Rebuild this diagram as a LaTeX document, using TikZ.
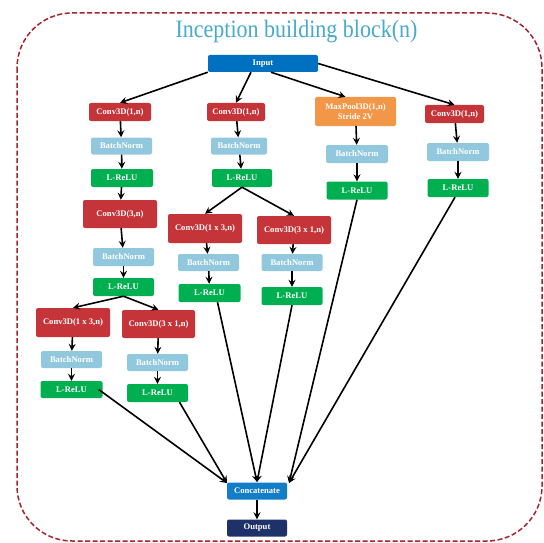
\documentclass[tikz,border=0pt]{standalone}
\usepackage{fontspec}
\usepackage{graphicx}
\setmainfont{Liberation Serif}
\usetikzlibrary{arrows.meta}
\definecolor{convred}{RGB}{196,52,56}
\definecolor{bnblue}{RGB}{146,200,222}
\definecolor{relugreen}{RGB}{0,176,80}
\definecolor{poolorange}{RGB}{242,150,72}
\definecolor{inblue}{RGB}{0,112,192}
\definecolor{catblue}{RGB}{20,125,200}
\definecolor{outnavy}{RGB}{30,50,105}
\definecolor{titleblue}{RGB}{70,170,200}
\definecolor{framered}{RGB}{165,35,45}
\begin{document}
\begin{tikzpicture}[x=1pt,y=-1pt,
        box/.style={rounded corners=2pt, text=white, inner sep=0pt, align=center,
            font=\bfseries\fontsize{8.6}{10}\selectfont},
        conv/.style={box, fill=convred, minimum width=62pt, minimum height=18pt},
        bigconv/.style={box, fill=convred, minimum width=74pt, minimum height=28pt},
        bn/.style={box, fill=bnblue, minimum width=61pt, minimum height=17pt},
        relu/.style={box, fill=relugreen, minimum width=61pt, minimum height=18pt},
        arr/.style={-{Stealth[length=7pt,width=7pt,inset=2.5pt]}, line width=1.6pt}]
        \useasboundingbox (0,0) rectangle (544,543);

        % Frame and title
        \draw[framered, line width=1.5pt, dash pattern=on 5pt off 2.5pt, rounded corners=55pt]
            (17,13) rectangle (542,541);
        \node[anchor=base, text=titleblue, font=\fontsize{25}{28}\selectfont] (title) at (296.5,38)
            {\scalebox{0.88}[1]{Inception building block(n)}};

        % Input and first row
        \node[box, fill=inblue, minimum width=110pt, minimum height=17pt] (in) at (263,63.5) {Input};
        \node[conv] (c1a) at (120,112) {Conv3D(1,n)};
        \node[conv, minimum width=58pt] (c2a) at (236,112) {Conv3D(1,n)};
        \node[box, fill=poolorange, minimum width=81pt, minimum height=29pt] (pool) at (355.5,111.5) {MaxPool3D(1,n)\\Stride 2V};
        \node[conv, minimum width=59pt] (c4a) at (454.5,114) {Conv3D(1,n)};

        % BatchNorm / L-ReLU after first row
        \node[bn] (bn1a) at (121.5,146) {BatchNorm};
        \node[bn, minimum width=56pt] (bn2a) at (239,146) {BatchNorm};
        \node[bn, minimum width=62pt, minimum height=18pt] (bn3a) at (357,154) {BatchNorm};
        \node[bn, minimum width=62pt, minimum height=18pt] (bn4a) at (458,152) {BatchNorm};
        \node[relu, minimum width=62pt] (r1a) at (122,178) {L-ReLU};
        \node[relu, minimum width=60pt] (r2a) at (242,178) {L-ReLU};
        \node[relu] (r3a) at (357,190.5) {L-ReLU};
        \node[relu] (r4a) at (458,188) {L-ReLU};

        % Branch 1
        \node[bigconv] (c1b) at (120,214) {Conv3D(3,n)};
        \node[bn, minimum height=18pt] (bn1b) at (123.5,257) {BatchNorm};
        \node[relu] (r1b) at (123.5,287) {L-ReLU};
        \node[bigconv, minimum height=29pt] (c1c) at (73,322.5) {Conv3D(1 x 3,n)};
        \node[bigconv, minimum width=73pt] (c1d) at (158.5,324) {Conv3D(3 x 1,n)};
        \node[bn] (bn1c) at (71.5,359.5) {BatchNorm};
        \node[bn] (bn1d) at (157.5,362.5) {BatchNorm};
        \node[relu, minimum width=62pt, minimum height=17pt] (r1c) at (71.5,389.5) {L-ReLU};
        \node[relu] (r1d) at (157.5,393) {L-ReLU};

        % Branch 2
        \node[bigconv, minimum height=29pt] (c2b) at (205,228.5) {Conv3D(1 x 3,n)};
        \node[bigconv] (c2c) at (294,230) {Conv3D(3 x 1,n)};
        \node[bn] (bn2b) at (208.5,262.5) {BatchNorm};
        \node[bn] (bn2c) at (292,262.5) {BatchNorm};
        \node[relu, minimum width=62pt] (r2b) at (209.5,293) {L-ReLU};
        \node[relu] (r2c) at (292,296) {L-ReLU};

        % Merge
        \node[box, fill=catblue, minimum width=60pt, minimum height=17pt] (cat) at (257,491) {Concatenate};
        \node[box, fill=outnavy, minimum width=60pt, minimum height=17pt] (out) at (257,528) {Output};
        \coordinate (catL) at (227,483);
        \coordinate (catM) at (257,482);
        \coordinate (catR) at (289,483);

        % Connections
        \draw[arr] (in.south west) -- (c1a.north);
        \draw[arr] ([xshift=-12pt]in.south) -- (c2a.north);
        \draw[arr] ([xshift=8pt]in.south) -- ([xshift=-10pt]pool.north);
        \draw[arr] (in.east) -- (c4a.north);
        \foreach \a/\b in {c1a/bn1a, bn1a/r1a, r1a/c1b, c1b/bn1b, bn1b/r1b,
                c1c/bn1c, bn1c/r1c, c1d/bn1d, bn1d/r1d,
                c2a/bn2a, bn2a/r2a, c2b/bn2b, bn2b/r2b, c2c/bn2c, bn2c/r2c,
                pool/bn3a, bn3a/r3a, c4a/bn4a, bn4a/r4a}
            \draw[arr] (\a) -- (\b);
        \draw[arr] (r1b.south) -- (c1c.north);
        \draw[arr] (r1b.south) -- (c1d.north);
        \draw[arr] (r2a.south) -- (c2b.north);
        \draw[arr] (r2a.south) -- (c2c.north);
        \draw[arr] ([xshift=-4pt]r1c.east) -- (catL);
        \draw[arr] ([xshift=22pt]r1d.south) -- (catL);
        \draw[arr] ([xshift=8pt]r2b.south) -- (catM);
        \draw[arr] (r2c.south) -- (catM);
        \draw[arr] (r3a.south) -- (catR);
        \draw[arr] ([xshift=-3pt]r4a.south) -- (catR);
        \draw[arr] (cat) -- (out);
\end{tikzpicture}
\end{document}
